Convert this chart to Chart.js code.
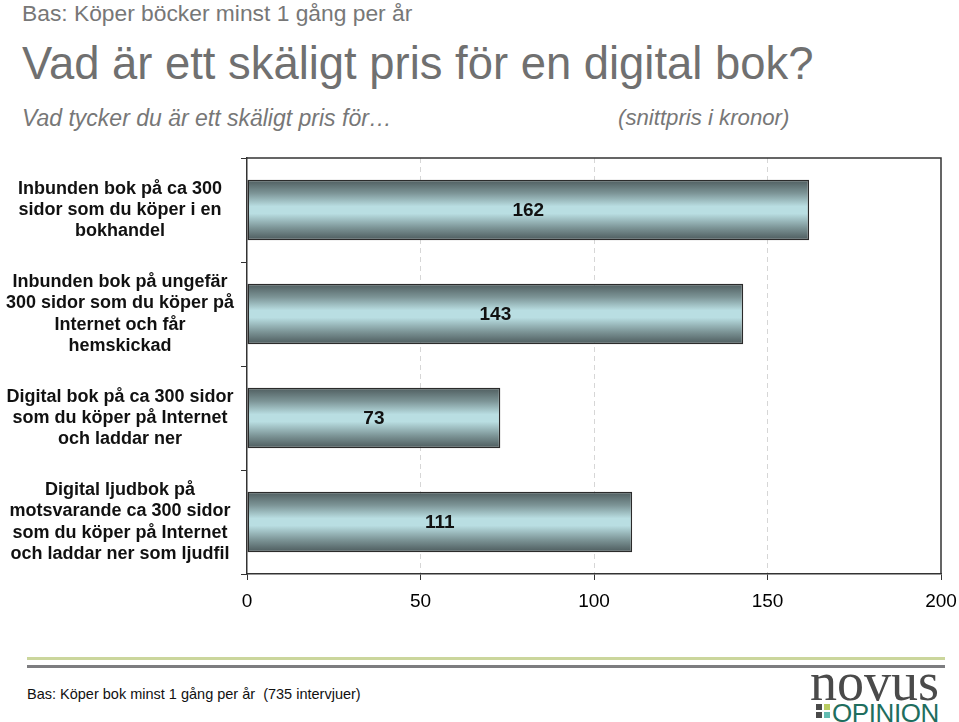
<!DOCTYPE html>
<html>
<head>
<meta charset="utf-8">
<script src="https://cdn.jsdelivr.net/npm/chart.js@4"></script>
<style>
  body { margin: 0; width: 959px; height: 722px; overflow: hidden; background: #fff; position: relative; font-family: "Liberation Sans", Arial, Helvetica, sans-serif; }
  .txt { position: absolute; line-height: 1; white-space: nowrap; }
  #bas { left: 22px; top: 2px; font-size: 22.8px; color: #777; }
  #title { left: 22px; top: 41px; font-size: 45.4px; color: #707070; }
  #sub { left: 22px; top: 107px; font-size: 23px; font-style: italic; color: #777; }
  #unit { left: 618px; top: 107px; font-size: 22.2px; font-style: italic; color: #777; }
  #chartbox { position: absolute; left: 0; top: 140px; width: 959px; height: 480px; }
  .rule { position: absolute; left: 27px; width: 918px; height: 3px; }
  #green { top: 657px; background: #cbd69c; }
  #gray { top: 665px; background: #7d7d80; }
  #foot { left: 27px; top: 687px; font-size: 14.5px; color: #111; }
  #novus { left: 810px; top: 655px; font-family: "Liberation Serif", "DejaVu Serif", serif; font-size: 54px; color: #4a4a4a; }
  #opinion { left: 832px; top: 700px; font-size: 26px; color: #1f6e5e; letter-spacing: -0.4px; }
  .sq { position: absolute; width: 6px; height: 6px; }
</style>
</head>
<body>
<div class="txt" id="bas">Bas: Köper böcker minst 1 gång per år</div>
<div class="txt" id="title">Vad är ett skäligt pris för en digital bok?</div>
<div class="txt" id="sub">Vad tycker du är ett skäligt pris för…</div>
<div class="txt" id="unit">(snittpris i kronor)</div>
<div id="chartbox"><canvas id="chart"></canvas></div>
<div class="rule" id="green"></div>
<div class="rule" id="gray"></div>
<div class="txt" id="foot">Bas: Köper bok minst 1 gång per år&nbsp; (735 intervjuer)</div>
<div class="txt" id="novus">novus</div>
<div class="sq" style="left:816px;top:704px;background:#4a4a4a"></div>
<div class="sq" style="left:824px;top:704px;background:#b9cc62"></div>
<div class="sq" style="left:816px;top:712px;background:#4a4a4a"></div>
<div class="sq" style="left:824px;top:712px;background:#63bcb2"></div>
<div class="txt" id="opinion">OPINION</div>
<script>
'use strict';

const categories = [
  ['Inbunden bok på ca 300', 'sidor som du köper i en', 'bokhandel'],
  ['Inbunden bok på ungefär', '300 sidor som du köper på', 'Internet och får', 'hemskickad'],
  ['Digital bok på ca 300 sidor', 'som du köper på Internet', 'och laddar ner'],
  ['Digital ljudbok på', 'motsvarande ca 300 sidor', 'som du köper på Internet', 'och laddar ner som ljudfil'],
];
const prices = [162, 143, 73, 111];
const xMin = 0;
const xMax = 200;
const xStep = 50;

const fontFamily = '"Liberation Sans", Arial, Helvetica, sans-serif';
const barPct = 0.58;

// vertical metal-like gradient for each bar
function barFill(context) {
  const chart = context.chart;
  const yScale = chart.scales && chart.scales.y;
  if (!yScale || context.type !== 'data') {
    return '#a9d0d5';
  }
  const center = yScale.getPixelForValue(context.dataIndex);
  const half = (yScale.height / categories.length) * barPct / 2;
  if (!Number.isFinite(center) || !Number.isFinite(half) || half <= 0) {
    return '#a9d0d5';
  }
  const g = chart.ctx.createLinearGradient(0, center - half, 0, center + half);
  g.addColorStop(0, '#4e5c5e');
  g.addColorStop(0.22, '#7c9496');
  g.addColorStop(0.44, '#b9dee2');
  g.addColorStop(0.56, '#b9dee2');
  g.addColorStop(0.8, '#7b9395');
  g.addColorStop(1, '#4c5a5c');
  return g;
}

// top and right edges of the plot frame
const frame = {
  id: 'frame',
  afterDraw(chart) {
    const { ctx, chartArea } = chart;
    ctx.save();
    ctx.strokeStyle = '#333';
    ctx.lineWidth = 1.5;
    ctx.beginPath();
    ctx.moveTo(chartArea.left, chartArea.top);
    ctx.lineTo(chartArea.right, chartArea.top);
    ctx.lineTo(chartArea.right, chartArea.bottom);
    ctx.stroke();
    ctx.restore();
  },
};

// value written in the middle of each bar
const valueLabels = {
  id: 'valueLabels',
  afterDatasetsDraw(chart) {
    const ctx = chart.ctx;
    const meta = chart.getDatasetMeta(0);
    ctx.save();
    ctx.font = 'bold 19px ' + fontFamily;
    ctx.fillStyle = '#111';
    ctx.textAlign = 'center';
    ctx.textBaseline = 'middle';
    meta.data.forEach((bar, i) => {
      const p = bar.getProps(['x', 'y', 'base'], true);
      ctx.fillText(String(prices[i]), (p.x + p.base) / 2, p.y + 1);
    });
    ctx.restore();
  },
};

new Chart(document.getElementById('chart'), {
  type: 'bar',
  data: {
    labels: categories,
    datasets: [
      {
        data: prices,
        backgroundColor: barFill,
        borderColor: '#2b2b2b',
        borderWidth: 1.5,
        borderSkipped: false,
        barPercentage: barPct,
        categoryPercentage: 1,
      },
    ],
  },
  options: {
    indexAxis: 'y',
    responsive: true,
    maintainAspectRatio: false,
    animation: false,
    layout: { padding: { top: 18, right: 18, left: 0, bottom: 0 } },
    plugins: {
      legend: { display: false },
      tooltip: { enabled: false },
    },
    scales: {
      x: {
        min: xMin,
        max: xMax,
        afterFit: (scale) => {
          scale.height = 46;
          scale.paddingLeft = 0;
          scale.paddingRight = 0;
        },
        ticks: {
          stepSize: xStep,
          color: '#000',
          padding: 10,
          font: { family: fontFamily, size: 19 },
        },
        grid: {
          color: (ctx) => {
            const v = ctx.tick ? ctx.tick.value : null;
            return v === xMin || v === xMax ? 'rgba(0,0,0,0)' : '#d6d6d6';
          },
          tickColor: '#333',
          tickLength: 6,
        },
        border: { color: '#333', width: 1.5, dash: [5, 4] },
      },
      y: {
        afterFit: (scale) => {
          scale.width = 247;
          scale.paddingTop = 0;
          scale.paddingBottom = 0;
        },
        ticks: {
          color: '#111',
          crossAlign: 'center',
          padding: 7,
          font: { family: fontFamily, size: 18, weight: 'bold', lineHeight: 1.18 },
        },
        grid: {
          drawOnChartArea: false,
          tickColor: '#333',
          tickLength: 6,
        },
        border: { color: '#333', width: 1.5 },
      },
    },
  },
  plugins: [frame, valueLabels],
});
</script>
</body>
</html>
